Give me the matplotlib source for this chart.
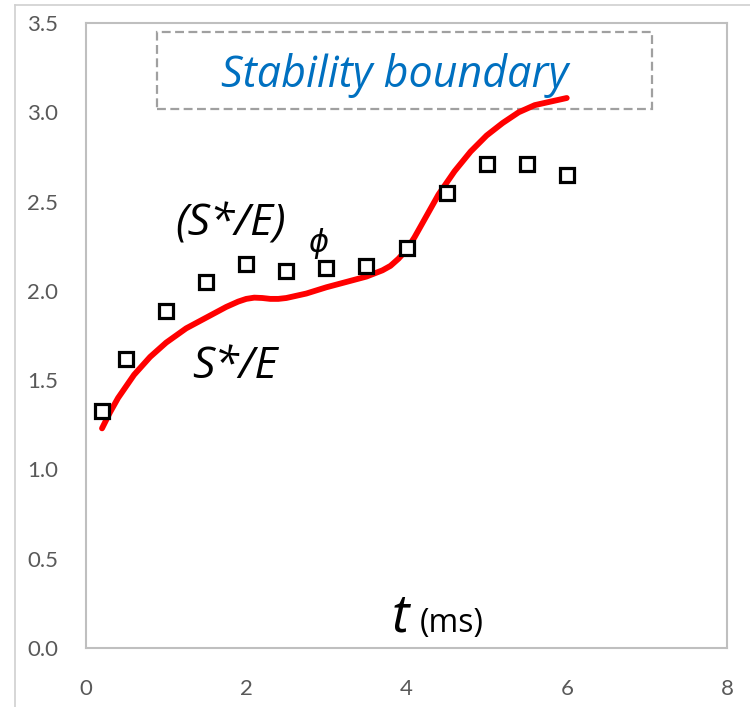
import matplotlib
matplotlib.use("Agg")
import matplotlib.pyplot as plt
from matplotlib.patches import Rectangle
from matplotlib.lines import Line2D

# Data
line_t = [0.2, 0.3, 0.4, 0.6, 0.8, 1.0, 1.25, 1.5, 1.75, 1.9, 2.0, 2.1, 2.2, 2.3, 2.4, 2.5,
          2.75, 3.0, 3.25, 3.5, 3.7, 3.8, 3.9, 4.0, 4.1, 4.2, 4.4, 4.6, 4.8, 5.0, 5.2,
          5.4, 5.6, 5.8, 6.0]
line_se = [1.23, 1.32, 1.40, 1.53, 1.63, 1.71, 1.79, 1.85, 1.91, 1.94, 1.955, 1.962, 1.96,
           1.955, 1.955, 1.96, 1.985, 2.02, 2.05, 2.08, 2.115, 2.14, 2.18, 2.23, 2.30, 2.38,
           2.54, 2.67, 2.78, 2.87, 2.94, 3.00, 3.04, 3.06, 3.08]
pts_t = [0.2, 0.5, 1.0, 1.5, 2.0, 2.5, 3.0, 3.5, 4.0, 4.5, 5.0, 5.5, 6.0]
pts_se_phi = [1.33, 1.62, 1.89, 2.05, 2.15, 2.11, 2.13, 2.14, 2.24, 2.55, 2.71, 2.71, 2.65]
x_ticks = [0, 2, 4, 6, 8]
y_ticks = [0.0, 0.5, 1.0, 1.5, 2.0, 2.5, 3.0, 3.5]

plt.rcParams['font.family'] = ['Lato', 'DejaVu Sans']
TXT = ['Open Sans', 'DejaVu Sans']

fig = plt.figure(figsize=(7.5, 7.07), dpi=100)
ax = fig.add_axes([86/750, (707-648)/707, (727-86)/750, (648-23)/707])

ax.plot(line_t, line_se, color='#ff0000', lw=4.2, solid_capstyle='round',
        solid_joinstyle='round', zorder=2)
ax.plot(pts_t, pts_se_phi, ls='none', marker='s', ms=10.5, mfc='white', mec='black',
        mew=2.3, zorder=3)

ax.set_xlim(0, 8)
ax.set_ylim(0, 3.5)
ax.set_xticks(x_ticks)
ax.set_xticklabels([str(v) for v in x_ticks])
ax.set_yticks(y_ticks)
ax.set_yticklabels([f"{v:.1f}" for v in y_ticks])
ax.tick_params(axis='both', length=0, labelsize=16, labelcolor='#595959')
ax.tick_params(axis='y', pad=20)
ax.tick_params(axis='x', pad=22)
for s in ax.spines.values():
    s.set_color('#bfbfbf')
    s.set_linewidth(1.5)

# Stability boundary box
ax.add_patch(Rectangle((0.885, 3.02), 7.06 - 0.885, 3.45 - 3.02, fill=False,
                       ec='#a0a0a0', lw=1.6, ls=(0, (4, 2)), zorder=1))
ax.text(3.85, 3.14, 'Stability boundary', color='#0070c0', fontsize=31, style='italic',
        family=TXT, ha='center', va='baseline')

# Labels
ax.text(1.33, 1.51, 'S*/E', fontsize=32, style='italic', family=TXT, ha='left', va='baseline')
ax.text(1.11, 2.31, '(S*/E)', fontsize=32, style='italic', family=TXT, ha='left', va='baseline')
ax.text(2.77, 2.22, '\u03d5', fontsize=22, style='italic', family=['DejaVu Sans'],
        ha='left', va='baseline')
ax.text(3.82, 0.09, 't', fontsize=38, style='italic', family=TXT, ha='left', va='baseline')
ax.text(4.16, 0.09, '(ms)', fontsize=23, family=TXT, ha='left', va='baseline')

# Outer frame of chart
fig.add_artist(Line2D([15/750, 15/750], [0, 702/707], transform=fig.transFigure,
                      color='#d0d0d0', lw=1.2))
fig.add_artist(Line2D([15/750, 1], [702/707, 702/707], transform=fig.transFigure,
                      color='#d0d0d0', lw=1.2))

fig.savefig('out.png', dpi=100)
